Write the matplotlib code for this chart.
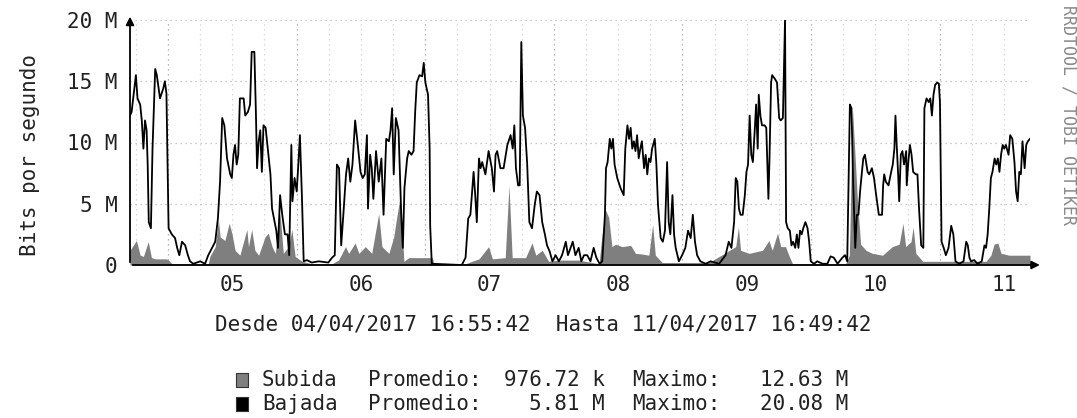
import matplotlib
matplotlib.use('Agg')
import matplotlib.pyplot as plt
from matplotlib.patches import Rectangle

# hours since 04/04/2017 16:55:42, values in Mbit/s
bajada_t = [
    0.0, 0.3, 1.1, 1.4, 1.9, 2.2, 2.5, 2.8, 3.1, 3.3, 3.5, 3.9, 4.2, 4.7, 5.0, 5.6, 6.2, 6.5, 6.8, 7.2,
    7.8, 8.4, 8.8, 9.2, 9.7, 10.3, 10.8, 11.2, 11.8, 13.1, 14.0, 14.6, 15.3, 15.9, 16.4, 16.8, 17.2, 17.6,
    18.1, 18.7, 19.0, 19.3, 19.6, 19.9, 20.2, 20.5, 21.2, 21.5, 22.0, 22.4, 22.7, 23.2, 23.5, 23.7, 24.0,
    24.3, 24.6, 24.9, 25.3, 25.7, 26.2, 26.5, 27.0, 27.3,
    27.6, 28.0, 28.4, 28.9, 29.4, 29.7, 30.1, 30.3, 30.7, 31.1, 31.4, 31.7, 32.1, 32.4, 33.0, 33.9, 35.2,
    37.0, 37.7, 38.2, 38.6, 39.0, 39.4, 39.8, 40.3, 40.7, 41.1, 41.5, 42.0, 42.5, 43.0, 43.4, 43.8, 44.2,
    44.4, 44.8, 45.1, 45.4, 45.9, 46.4, 46.9, 47.3, 47.8, 48.3, 48.6, 48.9, 49.2, 49.6, 50.1, 50.6, 50.9,
    51.2, 51.7, 52.0, 52.5, 52.9, 53.2, 53.5, 54.0, 54.5, 54.8, 55.1, 55.6, 55.9,
    56.0, 56.3, 61.9, 62.6, 63.1, 63.5, 64.1, 64.4, 64.7, 65.1, 65.4, 65.7, 66.3, 66.9, 67.5, 67.9, 68.2,
    68.5, 69.1, 69.7, 70.4, 71.0, 71.4, 71.7, 72.0, 72.4, 72.7, 73.0, 73.3, 73.7, 74.1, 74.5, 75.0, 75.5,
    75.9, 76.4, 76.9, 77.4, 77.8, 78.3, 78.8, 79.4, 80.0, 80.6, 81.3, 81.7, 82.2, 82.6, 83.1,
    83.7, 84.2, 84.7, 85.3, 85.9, 86.5, 87.0, 87.6, 88.1, 88.6, 88.8, 89.1, 89.5, 89.8, 90.1, 90.4, 90.9,
    91.5, 92.1, 92.4, 92.8, 93.1, 93.4, 93.7, 94.0, 94.3, 94.6, 94.9, 95.2, 95.5, 95.9, 96.2, 96.5, 96.8,
    97.1, 97.4, 97.9, 98.2, 98.5, 99.0, 99.4, 99.8, 100.2, 100.5, 100.8, 101.2, 101.5, 101.8, 102.4, 103.0,
    103.6, 104.1, 104.6, 105.0, 105.4, 105.8, 106.4, 107.4, 108.3, 109.9, 111.1,
    111.7, 112.2, 112.7, 113.0, 113.3, 113.6, 113.9, 114.3, 114.7, 115.0, 115.3, 115.6, 115.9, 116.2, 116.6,
    116.8, 117.1, 117.3, 117.6, 117.9, 118.4, 118.7, 119.1, 119.3, 119.6, 119.8, 120.3, 120.7, 121.1, 121.4,
    121.8, 122.2, 122.4, 122.7, 123.1, 123.4, 123.7, 124.1, 124.4, 124.7, 125.0, 125.3, 125.6, 126.0, 126.4,
    126.7, 127.0, 127.6, 128.2, 129.2, 130.1, 130.7, 131.3, 132.0, 132.9, 133.4, 133.8, 134.3, 134.6, 134.9,
    135.3, 135.6, 135.9, 136.2, 136.5, 136.8, 137.1, 137.6, 137.9, 138.4, 138.8, 139.2, 139.7,
    140.3, 140.5, 140.7, 141.0, 141.5, 142.0, 142.3, 142.6, 142.8, 143.0, 143.3, 143.5, 143.8, 144.1, 144.4,
    144.8, 144.9, 145.2, 145.5, 145.8, 146.1, 146.6, 146.9, 147.2, 147.6, 148.0, 148.2, 148.6, 149.0, 149.3,
    149.6, 149.9, 150.2, 150.6, 150.9, 151.1, 151.4, 151.8, 152.2, 152.7, 153.2, 153.6, 154.0, 154.7, 155.5,
    156.0, 156.3, 156.6, 156.9, 157.5, 158.1, 158.9, 159.4, 159.7, 160.0, 160.3, 160.6, 160.9, 161.3, 161.6,
    161.9, 162.2, 162.5, 162.8, 163.1, 163.4, 163.9, 164.2, 164.6, 165.0, 165.3, 165.6, 165.9, 166.2, 166.5,
    166.9, 167.2, 167.5, 167.9,
]
bajada_v = [
    12.2, 12.5, 15.5, 13.6, 13.1, 11.8, 9.5, 11.8, 11.0, 8.2, 3.5, 3.0, 9.5, 16.0, 15.5, 13.6, 14.4, 15.0, 14.0, 3.0,
    2.5, 2.2, 1.4, 0.8, 1.9, 1.6, 0.8, 0.3, 0.1, 0.3, 0.1, 0.8, 1.4, 1.9, 3.8, 6.8, 12.0, 11.4,
    8.7, 7.4, 7.1, 9.0, 9.8, 8.2, 9.0, 13.6, 13.6, 12.2, 12.5, 13.1, 17.4, 17.4, 12.2, 7.9, 10.1,
    11.0, 7.6, 11.4, 11.2, 9.5, 7.4, 4.6, 3.5, 2.8,
    1.4, 5.7, 4.1, 2.5, 2.5, 0.8, 9.8, 5.2, 7.1, 6.0, 8.2, 10.6, 5.2, 0.3, 0.4, 0.2, 0.3,
    0.2, 0.6, 0.8, 8.2, 7.9, 1.6, 4.1, 7.4, 8.7, 6.8, 8.2, 11.8, 9.8, 7.6, 7.1, 7.4, 10.6,
    4.6, 9.0, 7.9, 5.4, 9.3, 6.8, 8.7, 4.1, 10.3, 10.1, 11.0, 12.8, 7.4, 12.0, 11.0, 4.1, 1.4,
    6.3, 8.7, 9.3, 9.0, 9.3, 12.5, 14.9, 15.5, 15.4, 16.5, 14.9, 13.9, 9.5,
    3.2, 0.1, 0.0, 0.6, 3.8, 4.1, 7.6, 5.7, 3.5, 8.7, 7.9, 8.4, 7.4, 9.3, 7.9, 6.0, 9.0,
    9.3, 7.9, 7.9, 9.8, 10.6, 9.5, 11.4, 7.9, 6.5, 6.5, 18.2, 12.2, 11.2, 8.2, 3.5, 3.0, 4.9,
    6.0, 5.7, 3.5, 2.5, 1.6, 1.1, 0.3, 0.8, 0.3, 0.8, 1.9, 0.8, 1.4, 1.9, 0.8,
    1.4, 0.3, 0.8, 0.8, 0.3, 1.4, 0.6, 0.1, 0.3, 4.1, 7.9, 8.4, 10.3, 9.5, 10.3, 8.2, 7.1,
    6.3, 5.7, 9.5, 11.4, 10.3, 11.2, 9.5, 10.1, 9.3, 10.6, 8.7, 9.5, 10.1, 7.9, 9.0, 7.4, 8.7,
    8.4, 9.5, 10.3, 8.2, 4.9, 2.2, 1.9, 2.8, 8.4, 3.5, 2.5, 5.7, 2.5, 1.4, 0.3, 0.8,
    1.4, 2.8, 2.2, 4.1, 1.9, 0.8, 0.3, 0.1, 0.3, 0.1, 0.8,
    1.9, 1.4, 3.5, 7.1, 6.8, 4.6, 4.1, 4.1, 5.7, 7.6, 8.2, 12.2, 9.0, 8.4, 11.4,
    13.1, 9.5, 13.9, 12.2, 11.4, 11.4, 11.2, 5.4, 8.7, 14.9, 15.5, 15.2, 14.9, 12.0, 11.8,
    12.0, 20.08, 3.5, 3.0, 2.8, 1.6, 1.9, 1.4, 2.5, 1.4, 2.8, 2.5, 3.0, 3.5, 3.0,
    1.9, 0.3, 0.1, 0.3, 0.1, 0.1, 0.7, 0.6, 0.1, 0.6, 0.8, 0.3, 13.1, 12.8, 6.8,
    1.4, 4.1, 4.1, 6.0, 7.4, 8.7, 9.0, 7.6, 7.4, 7.9, 7.1, 5.7, 4.1,
    4.1, 6.5, 7.4, 6.8, 6.5, 7.6, 8.2, 9.5, 12.2, 10.1, 7.4, 5.2, 9.0, 9.3, 8.2,
    9.3, 6.5, 8.4, 9.8, 9.0, 7.6, 7.4, 7.4, 4.6, 1.6, 1.4, 12.8, 13.6, 13.3, 13.6,
    12.2, 13.9, 14.7, 14.9, 14.8, 13.3, 1.9, 1.4, 0.8, 1.4, 3.2, 2.5, 0.3, 0.1, 0.3,
    1.9, 1.6, 0.6, 0.3, 0.4, 0.1, 0.3, 1.6, 1.4, 2.5, 4.6, 7.1, 7.6, 8.7, 8.2,
    8.7, 7.6, 9.0, 9.8, 9.5, 9.8, 9.0, 10.6, 10.3, 8.4, 6.0, 5.2, 7.6, 7.4, 10.1,
    7.9, 9.8, 10.1, 10.3,
]

subida_t = [
    0.0, 1.2, 1.9, 2.5, 3.4, 4.0, 4.7, 6.8, 7.2, 7.8, 14.6, 14.9, 15.9, 16.5, 16.8, 17.7, 18.5, 19.0, 19.6,
    20.5, 21.8, 22.1, 22.7, 23.3, 24.0, 25.2, 25.8, 26.5, 27.1, 28.0, 28.6, 29.6, 30.2, 30.8, 32.1, 33.9,
    37.7, 38.9, 40.2, 40.8, 42.0, 42.7, 43.9, 45.1, 46.4, 47.0, 48.3, 49.2, 49.8, 50.4, 51.1, 52.0, 56.4,
    56.7, 62.6, 63.8, 65.1, 66.9, 67.6, 70.0, 70.7, 71.3, 73.8, 75.0, 75.7, 76.9, 78.1, 80.0, 83.7, 87.5,
    88.1, 88.7, 89.3, 89.9, 90.6, 91.8, 93.4, 94.3, 95.5, 96.8, 97.5, 98.0, 99.3, 108.0, 113.0, 113.5,
    113.9, 115.5, 118.0, 119.2, 119.8, 120.8, 121.4, 122.3, 122.9, 123.6, 133.5, 134.2, 134.8, 135.3,
    135.7, 136.3, 137.3, 138.5, 140.4, 142.2, 143.5, 144.2, 144.7, 145.7, 146.1, 146.6, 147.9, 159.7,
    160.6, 161.2, 161.9, 162.5, 164.0, 167.9,
]
subida_v = [
    1.2, 2.0, 0.8, 0.7, 1.9, 0.6, 0.5, 0.5, 0.4, 0.1, 0.1, 0.7, 1.5, 3.7, 2.3, 2.0, 3.4, 2.6, 1.2,
    0.8, 2.9, 1.5, 2.9, 1.2, 0.8, 2.3, 2.6, 1.5, 0.95, 4.2, 0.95, 1.5, 2.9, 0.7, 0.3, 0.1,
    0.1, 0.4, 1.5, 0.95, 1.8, 0.95, 1.5, 0.95, 4.2, 1.5, 0.95, 2.3, 4.0, 5.6, 0.3, 0.6, 0.6,
    0.1, 0.1, 0.3, 0.5, 1.5, 0.5, 0.6, 6.5, 0.6, 0.6, 1.8, 0.8, 1.2, 0.3, 0.4, 0.4, 0.1,
    2.6, 4.5, 3.9, 1.5, 1.7, 1.5, 1.6, 0.95, 0.9, 0.8, 3.3, 0.8, 0.2, 0.2, 1.5, 3.1,
    1.2, 0.95, 1.2, 2.0, 1.2, 2.6, 1.5, 1.5, 0.8, 0.1, 0.1, 0.8, 12.63, 8.6,
    5.3, 1.7, 1.2, 0.95, 0.8, 1.5, 1.7, 3.4, 1.5, 1.9, 3.1, 0.95, 0.3, 0.3,
    0.8, 1.7, 1.8, 0.95, 0.8, 0.8,
]

day_labels = ['05', '06', '07', '08', '09', '10', '11']
y_ticks = [0, 5, 10, 15, 20]
y_labels = ['0', '5 M', '10 M', '15 M', '20 M']

legend_names = ['Subida', 'Bajada']
legend_avg = ['976.72 k', '5.81 M']
legend_max = ['12.63 M', '20.08 M']
legend_colors = ['#7f7f7f', '#000000']

FIRST_MIDNIGHT = 7.07  # 05/04 00:00 in hours after start
END_HOURS = 167.9
W, H = 1077, 418
MONO = 'DejaVu Sans Mono'
FS = 15


def fx(px):
    return px / W


def fy(py):
    return 1 - py / H


def main():
    fig = plt.figure(figsize=(W / 100, H / 100), dpi=100)
    fig.patch.set_facecolor('white')
    ax = fig.add_axes([fx(130), fy(265), 900 / W, 245 / H])

    ax.set_xlim(0, END_HOURS)
    ax.set_ylim(0, 20)
    for s in ax.spines.values():
        s.set_visible(False)

    # grid: fine every 6 h, stronger at midnight, horizontal every 5 M
    for k in range(-1, 28):
        h = FIRST_MIDNIGHT + 6 * k
        if 0 < h < END_HOURS:
            major = (k % 4 == 0)
            ax.axvline(h, color='#a0a0a0' if major else '#d0d0d0',
                       lw=0.9, ls=(0, (1, 3)), zorder=1)
    for v in y_ticks[1:]:
        ax.axhline(v, color='#b8b8b8', lw=0.9, ls=(0, (1, 3)), zorder=1)

    ax.fill_between(subida_t, 0, subida_v, color=legend_colors[0], lw=0, zorder=2)
    ax.plot(bajada_t, bajada_v, color='black', lw=1.3, zorder=3)

    # axes with arrows
    ax.annotate('', xy=(1.014, 0), xytext=(0, 0), xycoords='axes fraction',
                arrowprops=dict(arrowstyle='-|>', color='black', lw=1.3, mutation_scale=12))
    ax.annotate('', xy=(0, 1.025), xytext=(0, 0), xycoords='axes fraction',
                arrowprops=dict(arrowstyle='-|>', color='black', lw=1.3, mutation_scale=12))

    ax.set_xticks([FIRST_MIDNIGHT + 12 + 24 * i for i in range(len(day_labels))])
    ax.set_xticklabels(day_labels)
    ax.set_yticks(y_ticks)
    ax.set_yticklabels(y_labels)
    ax.tick_params(length=0, labelsize=FS, labelcolor='#222222')
    ax.tick_params(axis='y', pad=9)
    ax.tick_params(axis='x', pad=7)
    for lab in ax.get_xticklabels() + ax.get_yticklabels():
        lab.set_family(MONO)

    fig.text(fx(30), fy(155), 'Bits por segundo', rotation=90, ha='center', va='center',
             family=MONO, fontsize=FS, color='#222222')
    fig.text(fx(1068), fy(115), 'RRDTOOL / TOBI OETIKER', rotation=270, ha='center', va='center',
             family=MONO, fontsize=12, color='#8a8a8a')
    fig.text(fx(543), fy(325), 'Desde 04/04/2017 16:55:42  Hasta 11/04/2017 16:49:42',
             ha='center', va='center', family=MONO, fontsize=FS, color='#222222')

    rows_y = [380, 404]
    for i, name in enumerate(legend_names):
        y = rows_y[i]
        fig.patches.append(Rectangle((fx(236), fy(y + 7)), 12 / W, 14 / H, transform=fig.transFigure,
                                     facecolor=legend_colors[i], edgecolor='#333333', lw=0.8))
        kw = dict(va='center', family=MONO, fontsize=FS, color='#222222')
        fig.text(fx(262), fy(y), name, ha='left', **kw)
        fig.text(fx(368), fy(y), 'Promedio:', ha='left', **kw)
        fig.text(fx(605), fy(y), legend_avg[i], ha='right', **kw)
        fig.text(fx(632), fy(y), 'Maximo:', ha='left', **kw)
        fig.text(fx(848), fy(y), legend_max[i], ha='right', **kw)

    fig.savefig('out.png', dpi=100)


if __name__ == '__main__':
    main()
